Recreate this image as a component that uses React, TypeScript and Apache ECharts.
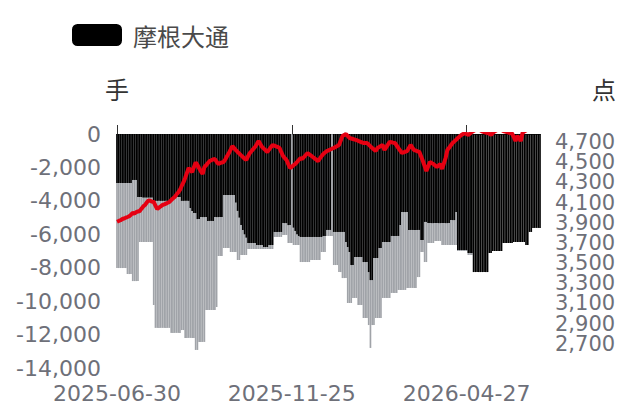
import React, { useEffect, useRef } from "react";
import * as echarts from "echarts";

// Trading-day calendar (categories)
const startDate = "2025-06-30";
const endDate = "2026-06-30";
const holidays = [
  "2025-10-01", "2025-10-02", "2025-10-03", "2025-10-06", "2025-10-07", "2025-10-08",
  "2026-01-01", "2026-01-02", "2026-02-16", "2026-02-17", "2026-02-18", "2026-02-19",
  "2026-02-20", "2026-02-23", "2026-04-06", "2026-05-01", "2026-05-04", "2026-05-05",
  "2026-06-19",
];
const xTickLabels = ["2025-06-30", "2025-11-25", "2026-04-27"];
const rightAxisMin = 2460;
const rightAxisMax = 4780;
const rightTickValues = [2700, 2900, 3100, 3300, 3500, 3700, 3900, 4100, 4300, 4500, 4700];

// 摩根大通 (black bars, 手)
const blackValues = [
  -2930, -2930, -2930, -2930, -2930, -2930, -2930, -2930, -2930,
  -2750, -2750, -2750,
  -3770, -3770, -3770,
  -3800, -3800, -3800, -3800, -3800, -3800,
  -4000, -4000, -4000, -4000, -4000, -4000, -4000, -4000, -4000, -4000, -4000,
  -3770, -3770, -3770, -3770, -3770,
  -4000, -4000, -4000, -4000, -4000,
  -4430, -4600, -4730, -4730,
  -5090, -5090,
  -4970, -4970, -4970, -4970,
  -5200, -5200, -5200, -5200,
  -4970, -4970, -4970, -4970, -4970,
  -3650, -3650, -3650, -3650, -3650, -3650, -3650,
  -4100, -4600, -5000, -5450, -5750, -6000, -6200,
  -6520, -6520, -6520, -6520, -6520,
  -6640, -6640, -6640, -6640,
  -6760, -6760, -6760,
  -6640, -6640, -6640,
  -5860, -5860, -5860, -5860, -5860,
  -5330, -5330, -5330,
  -5450, -5450,
  null,
  -5600, -5800, -6000, -6100, -6160,
  -6160, -6160, -6160, -6160, -6160, -6160, -6160, -6160, -6160, -6160, -6160, -6160,
  -6100, -6100,
  -5740, -5740, -5740,
  null,
  -5860, -5860, -5860, -5860, -5860, -5860, -5860,
  -6460, -6760, -7060,
  -7840, -7840,
  -7360, -7360, -7360, -7360, -7360,
  -7660, -7660, -7660,
  -8260,
  -8740, -8740,
  -7420, -7420, -7420,
  -6820, -6820,
  -6460, -6460, -6460, -6460, -6460,
  -6100, -6100, -6100, -6100, -6100,
  -5450,
  -4670, -4670, -4670, -4670,
  -5740, -5740, -5740, -5740, -5740, -5740, -5740,
  -6340, -6340,
  -5260, -5260,
  -5330, -5330, -5330, -5330, -5330, -5330, -5330, -5330, -5330, -5330, -5330, -5330, -5330,
  -5150, -5150, -5150,
  -4670,
  -6940, -6940, -6940, -6940, -6940, -6940,
  -7120, -7120, -7120,
  -8260, -8260, -8260, -8260, -8260, -8260, -8260, -8260, -8260,
  -7120, -7120,
  -7000, -7000, -7000, -7000, -7000, -7000,
  -6520, -6520, -6520, -6520, -6520, -6520,
  -6460, -6460, -6460, -6460, -6460, -6460, -6460,
  -6640, -6640,
  -5860, -5860,
  -5620, -5620, -5620, -5620, -5620,
];

// grey bars (手)
const greyValues = [
  -8020, -8020, -8020, -8020, -8020, -8020,
  -8380, -8380, -8380,
  -8800, -8800, -8800, -8800,
  -6460, -6460, -6460, -6460, -6460, -6460, -6460, -6460,
  -10230,
  -11600, -11600, -11600, -11600, -11600, -11600, -11600, -11600, -11600,
  -11900, -11900, -11900, -11900, -11900, -11900,
  -11730, -11730,
  -12200, -12200, -12200, -12200, -12200, -12200,
  -12920, -12920,
  -12440, -12440, -12440, -12440,
  -10530, -10530, -10530, -10530, -10530, -10530,
  -10350,
  -7300, -7300, -7300,
  -6820, -6820, -6820, -6820,
  -7060, -7060, -7060, -7060,
  -7540, -7540,
  -7240, -7240, -7240, -7240,
  -6880, -6880, -6880, -6880, -6880, -6880, -6880, -6880, -6880, -6880, -6880, -6880, -6880, -6880, -6880,
  -6160, -6160, -6160, -6160, -6160,
  -6040, -6040, -6040,
  -6520, -6520, -6520,
  -6640, -6640, -6640, -6640,
  -7660, -7660, -7660, -7660, -7660, -7660,
  -7540, -7540, -7540, -7540, -7540, -7540,
  -7060, -7060, -7060,
  -6100, -6100, -6100, -6100,
  -7840, -7840, -7840,
  -8260, -8260,
  -8620, -8620, -8620,
  -10110, -10110, -10110,
  -9810, -9810, -9810,
  -10230, -10230, -10230,
  -11010, -11010, -11010,
  -11430,
  -12800,
  -11430, -11430,
  -11010, -11010, -11010, -11010,
  -9810, -9810, -9810, -9810, -9810,
  -9510, -9510, -9510, -9510,
  -9330, -9330, -9330, -9330, -9330,
  -9210, -9210, -9210, -9210, -9210, -9210,
  -8560, -8560,
  -7060, -7060,
  -7660, -7660,
  -6520, -6520, -6520, -6520,
  -6400, -6400, -6400, -6400,
  -6640, -6640, -6640, -6640, -6640, -6640, -6640, -6640, -6640,
  -7000, -7000, -7000, -7000, -7000, -7000,
  -7240, -7240, -7240,
  null, null, null, null, null, null, null, null, null, null, null, null, null,
  null, null, null, null, null, null, null, null, null, null, null, null, null,
  null, null, null, null, null, null, null, null, null, null, null, null, null,
];

// index line (点)
const indexValues = [
  3910, 3918, 3925, 3937, 3942, 3950, 3957, 3965, 3980, 3997,
  3992, 4005, 4012, 4017, 4040, 4062, 4076, 4100, 4121, 4118,
  4110, 4106, 4070, 4036, 4050, 4062, 4076, 4082, 4090, 4098,
  4106, 4125, 4140, 4155, 4180, 4200, 4225, 4265, 4300, 4344,
  4395, 4443, 4420, 4403, 4450, 4497, 4473, 4440, 4410, 4383,
  4453, 4470, 4492, 4512, 4520, 4528, 4532, 4505, 4483, 4492,
  4498, 4502, 4530, 4562, 4590, 4625, 4661, 4640, 4620, 4602,
  4585, 4568, 4552, 4535, 4522, 4560, 4592, 4612, 4632, 4651,
  4680, 4711, 4680, 4651, 4635, 4618, 4602, 4625, 4648, 4671,
  4664, 4657, 4651, 4641, 4600, 4562, 4540, 4522, 4480, 4443,
  4455, 4470, 4483, 4502, 4522, 4542, 4532, 4552, 4572, 4592,
  4578, 4565, 4552, 4538, 4525, 4512, 4535, 4560, 4582, 4597,
  4611, 4618, 4626, 4634, 4641, 4651, 4661, 4671, 4715, 4760,
  4770, 4780, 4760, 4740, 4735, 4730, 4725, 4720, 4712, 4705,
  4698, 4691, 4691, 4691, 4675, 4658, 4641, 4626, 4611, 4641,
  4651, 4661, 4671, 4621, 4648, 4675, 4701, 4698, 4694, 4691,
  4666, 4641, 4616, 4592, 4598, 4605, 4611, 4641, 4671, 4646,
  4621, 4615, 4608, 4602, 4557, 4512, 4462, 4413, 4458, 4502,
  4492, 4483, 4468, 4453, 4468, 4483, 4433, 4488, 4542, 4621,
  4644, 4668, 4691, 4707, 4723, 4740, 4755, 4770, 4780, 4790,
  4780, 4770, 4785, 4800, 4810, 4820, 4830, 4825, 4815, 4805,
  4800, 4795, 4790, 4785, 4770, 4790, 4805, 4815, 4825, 4830,
  4820, 4810, 4805, 4800, 4795, 4790, 4785, 4750, 4710, 4760,
  4740, 4710, 4790, 4805, 4815, 4825, 4830, 4835, 4840, 4835,
  4830, 4835, 4840,
];

function buildTradingDays(start: string, end: string, off: string[]): string[] {
  const out: string[] = [];
  const d = new Date(start + "T00:00:00Z");
  const last = new Date(end + "T00:00:00Z");
  while (d.getTime() <= last.getTime()) {
    const wd = d.getUTCDay();
    const s = d.toISOString().slice(0, 10);
    if (wd !== 0 && wd !== 6 && off.indexOf(s) < 0) out.push(s);
    d.setUTCDate(d.getUTCDate() + 1);
  }
  return out;
}

const NUM_FONT = "'DejaVu Sans', 'Noto Sans CJK SC', sans-serif";
const CJK_FONT = "'Noto Sans CJK SC', sans-serif";
const LABEL_COLOR = "#6E7079";

function addCommas(v: number): string {
  const s = String(Math.abs(Math.round(v)));
  const withC = s.replace(/\B(?=(\d{3})+(?!\d))/g, ",");
  return (v < 0 ? "-" : "") + withC;
}

export default function App() {
  const ref = useRef<HTMLDivElement>(null);

  useEffect(() => {
    document.body.style.margin = "0";
    if (!ref.current) return;
    const chart = echarts.init(ref.current, undefined, { renderer: "svg" });
    const dates = buildTradingDays(startDate, endDate, holidays);
    const showTick = (_i: number, v: string) => xTickLabels.indexOf(v) >= 0;
    // outer entries are placeholders at the axis ends (hidden), so the real labels are never dropped
    const rightLabelValues = [rightAxisMin].concat(rightTickValues, [rightAxisMax]);

    chart.setOption({
      animation: false,
      legend: {
        data: ["摩根大通"],
        left: 67,
        top: 18,
        itemWidth: 50,
        itemHeight: 22,
        textStyle: { fontSize: 24, color: "#4a4a4a", fontFamily: CJK_FONT, padding: [0, 0, 0, 6] },
      },
      grid: { left: 117, right: 90, top: 134, bottom: 41, outerBoundsMode: "none" },
      xAxis: {
        type: "category",
        data: dates,
        boundaryGap: false,
        axisLine: { show: true, lineStyle: { color: "#333", width: 1 } },
        axisTick: { show: true, inside: true, length: 9, interval: showTick, lineStyle: { color: "#333" } },
        axisLabel: { interval: showTick, margin: 14, color: LABEL_COLOR, fontSize: 22, fontFamily: NUM_FONT },
        splitLine: { show: false },
      },
      yAxis: [
        {
          type: "value",
          min: -14000,
          max: 0,
          interval: 2000,
          name: "手",
          nameLocation: "end",
          nameGap: 34,
          nameTextStyle: { color: "#333", fontSize: 24, fontFamily: CJK_FONT },
          axisLine: { show: false },
          axisTick: { show: false },
          splitLine: { show: false },
          axisLabel: {
            margin: 16,
            color: LABEL_COLOR,
            fontSize: 22,
            fontFamily: NUM_FONT,
            formatter: (v: number) => addCommas(v),
          },
        },
        {
          type: "value",
          position: "right",
          min: rightAxisMin,
          max: rightAxisMax,
          name: "点",
          nameLocation: "end",
          nameGap: 34,
          nameTextStyle: { color: "#333", fontSize: 24, fontFamily: CJK_FONT, align: "left", padding: [0, 0, 0, 52] },
          axisLine: { show: false },
          axisTick: { show: false },
          splitLine: { show: false },
          axisLabel: {
            customValues: rightLabelValues,
            showMinLabel: false,
            showMaxLabel: false,
            hideOverlap: false,
            margin: 15,
            color: LABEL_COLOR,
            fontSize: 21,
            lineHeight: 20,
            fontFamily: NUM_FONT,
            formatter: (v: number) => (v === rightAxisMin || v === rightAxisMax ? "" : addCommas(v)),
          },
        },
      ],
      series: [
        {
          type: "bar",
          name: "其他",
          data: greyValues,
          itemStyle: { color: "#a0a3a8" },
          barGap: "-100%",
          barCategoryGap: "5%",
          z: 1,
        },
        {
          type: "bar",
          name: "摩根大通",
          data: blackValues,
          itemStyle: { color: "#000000" },
          barGap: "-100%",
          barCategoryGap: "5%",
          z: 2,
        },
        {
          type: "line",
          name: "指数",
          yAxisIndex: 1,
          data: indexValues,
          symbol: "none",
          showSymbol: false,
          clip: true,
          lineStyle: { color: "#e60012", width: 4 },
          z: 5,
        },
      ],
    });
    return () => chart.dispose();
  }, []);

  return <div ref={ref} style={{ width: 630, height: 409 }} />;
}
